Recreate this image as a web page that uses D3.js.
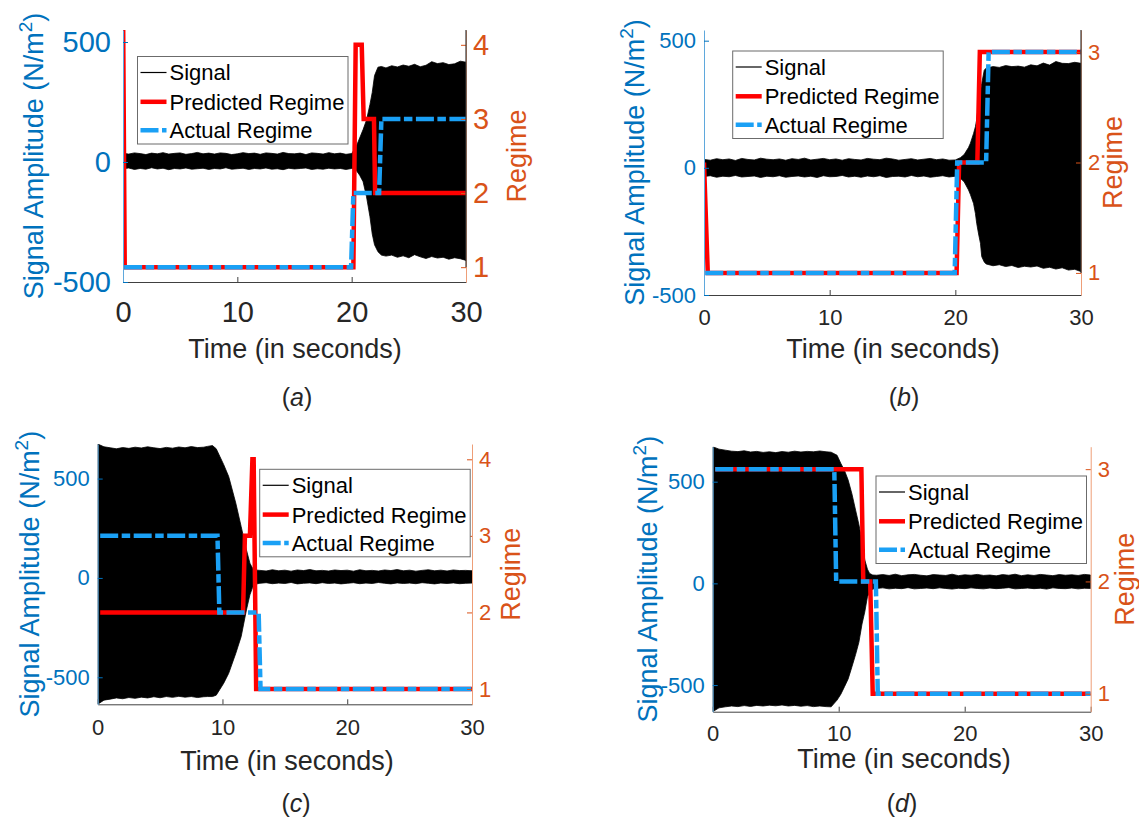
<!DOCTYPE html>
<html><head><meta charset="utf-8">
<script src="https://cdn.jsdelivr.net/npm/d3@7"></script>
<style>
body{margin:0;background:#fff}
svg{display:block}
text{font-family:"Liberation Sans",Arial,Helvetica,sans-serif}
</style>
</head><body>
<svg id="chart" width="1139" height="822"></svg>
<script>
// ---------------- DATA ----------------
const xTicks = [0, 10, 20, 30];
const ampTicks = [-500, 0, 500];
const regimeTicks4 = [1, 2, 3, 4];
const regimeTicks3 = [1, 2, 3];
const legendLabels = ["Signal", "Predicted Regime", "Actual Regime"];
const panelLetters = ["a", "b", "c", "d"];
const xLabel = "Time (in seconds)";
const leftLabel = "Signal Amplitude (N/m";
const rightLabel = "Regime";

// Panel (a): signal envelope (N/m^2) and regimes
const sigTimeA  = [0,0.5,1,1.5,2,2.5,3,3.5,4,4.5,5,5.5,6,6.5,7,7.5,8,8.5,9,9.5,10,10.5,11,11.5,12,12.5,13,13.5,14,14.5,15,15.5,16,16.5,17,17.5,18,18.5,19,19.5,20,
                   20.4,20.7,21.0,21.3,21.6,21.8,22.0,22.3,22.6,
                   23,23.5,24,24.5,25,25.5,26,26.5,27,27.5,28,28.5,29,29.5,30];
const sigUpperA = [36,33,38,35,31,37,34,39,33,36,38,32,35,40,34,37,33,38,36,31,34,39,35,37,32,38,36,33,40,35,34,37,31,38,36,33,39,34,37,32,35,
                   65,100,135,175,240,290,360,395,398,
                   392,401,396,404,399,407,397,403,418,410,414,406,409,420,416];
const sigLowerA = [-28,-25,-31,-27,-30,-24,-29,-26,-32,-27,-29,-25,-30,-28,-26,-31,-27,-29,-24,-30,-28,-26,-31,-27,-29,-25,-30,-28,-32,-26,-29,-27,-25,-31,-28,-30,-26,-29,-27,-31,-27,
                   -35,-55,-82,-145,-228,-300,-345,-374,-388,
                   -392,-388,-397,-391,-399,-386,-395,-402,-394,-400,-397,-405,-399,-403,-410];
const predTimeA   = [0, 0.15, 20.15, 20.35, 20.88, 21.05, 21.95, 22.05, 30];
const predRegimeA = [4.6, 1, 1, 4, 4, 3, 3, 2, 2];
const actTimeA    = [0.1, 19.95, 20.15, 22.4, 22.6, 30];
const actRegimeA  = [1, 1, 2, 2, 3, 3];

// Panel (b)
const sigTimeB  = [0,0.5,1,1.5,2,2.5,3,3.5,4,4.5,5,5.5,6,6.5,7,7.5,8,8.5,9,9.5,10,10.5,11,11.5,12,12.5,13,13.5,14,14.5,15,15.5,16,16.5,17,17.5,18,18.5,19,19.5,20,
                   20.4,20.7,21.05,21.2,21.45,21.6,21.7,21.85,22.0,22.1,22.3,22.45,
                   23,23.5,24,24.5,25,25.5,26,26.5,27,27.5,28,28.5,29,29.5,30];
const sigUpperB = [33,30,36,32,35,29,37,33,31,38,34,32,35,30,36,33,38,31,34,37,32,35,30,36,33,31,37,34,32,38,35,30,33,36,31,34,37,32,35,30,31,
                   40,52,80,97,135,162,190,254,300,332,384,392,
                   398,395,402,398,400,396,405,401,412,404,418,411,410,415,411];
const sigLowerB = [-34,-31,-37,-33,-35,-30,-36,-34,-32,-38,-33,-35,-31,-37,-34,-32,-36,-33,-38,-31,-35,-34,-30,-36,-33,-37,-32,-35,-31,-38,-34,-33,-36,-30,-35,-32,-37,-34,-31,-36,-33,
                   -41,-55,-87,-105,-140,-180,-218,-260,-297,-349,-370,-378,
                   -385,-381,-388,-384,-392,-387,-390,-386,-395,-391,-398,-393,-402,-399,-408];
const predTimeB   = [0, 0.3, 20.1, 20.3, 21.75, 21.95, 30];
const predRegimeB = [2, 1, 1, 2, 2, 3, 3];
const actTimeB    = [0.1, 19.95, 20.15, 22.45, 22.65, 30];
const actRegimeB  = [1, 1, 2, 2, 3, 3];

// Panel (c)
const sigTimeC  = [0,0.5,1,1.5,2,2.5,3,3.5,4,4.5,5,5.5,6,6.5,7,7.5,8,8.5,
                   8.8,9.2,9.5,9.8,10.1,10.5,11.07,11.5,11.92,12.2,12.4,12.6,
                   13,13.5,14,14.5,15,15.5,16,16.5,17,17.5,18,18.5,19,19.5,20,20.5,21,21.5,22,22.5,23,23.5,24,24.5,25,25.5,26,26.5,27,27.5,28,28.5,29,29.5,30];
const sigUpperC = [674,660,655,650,656,652,658,654,660,655,651,657,653,659,655,661,656,658,
                   662,666,650,610,570,510,376,258,141,74,50,40,
                   38,35,41,36,39,34,40,37,42,36,38,35,40,37,39,34,41,36,38,35,40,37,42,36,39,34,38,41,36,39,35,40,37,38,36];
const sigLowerC = [-636,-615,-610,-604,-608,-602,-606,-600,-604,-598,-603,-597,-601,-596,-600,-597,-602,-598,
                   -597,-597,-590,-560,-530,-480,-379,-295,-161,-85,-50,-32,
                   -27,-24,-29,-26,-28,-23,-30,-27,-25,-29,-24,-28,-26,-30,-27,-24,-29,-26,-28,-23,-27,-30,-25,-28,-26,-29,-24,-27,-30,-26,-28,-25,-29,-27,-26];
const predTimeC   = [0.2, 11.65, 11.8, 12.2, 12.4, 12.5, 12.7, 30];
const predRegimeC = [2, 2, 3, 3, 4, 4, 1, 1];
const actTimeC    = [0.2, 9.6, 9.75, 12.9, 13.05, 30];
const actRegimeC  = [3, 3, 2, 2, 1, 1];

// Panel (d)
const sigTimeD  = [0,0.5,1,1.5,2,2.5,3,3.5,4,4.5,5,5.5,6,6.5,7,7.5,8,8.5,9,
                   9.4,9.87,10.17,10.46,10.75,11.05,11.34,11.6,11.85,12.07,12.28,12.45,12.7,
                   13,13.5,14,14.5,15,15.5,16,16.5,17,17.5,18,18.5,19,19.5,20,20.5,21,21.5,22,22.5,23,23.5,24,24.5,25,25.5,26,26.5,27,27.5,28,28.5,29,29.5,30];
const sigUpperD = [672,660,655,650,648,652,646,649,644,647,643,648,645,650,646,649,647,651,647,
                   645,630,590,555,508,440,360,290,210,115,70,49,41,
                   40,43,39,45,38,42,44,40,37,43,41,39,45,38,42,40,44,39,41,37,43,40,45,38,42,39,44,41,38,43,40,42,39,44,41];
const sigLowerD = [-631,-612,-607,-603,-606,-601,-605,-600,-603,-599,-602,-598,-603,-600,-604,-601,-606,-603,-606,
                   -607,-574,-545,-508,-470,-410,-350,-290,-200,-140,-66,-45,-28,
                   -25,-22,-27,-24,-26,-21,-27,-25,-23,-26,-22,-25,-28,-24,-26,-22,-25,-27,-23,-26,-24,-21,-27,-25,-23,-26,-24,-28,-22,-25,-26,-23,-27,-24,-25];
const predTimeD   = [0.2, 11.8, 11.95, 12.5, 12.7, 30];
const predRegimeD = [3, 3, 2, 2, 1, 1];
const actTimeD    = [0.2, 9.65, 9.8, 12.95, 13.1, 30];
const actRegimeD  = [3, 3, 2, 2, 1, 1];

// ---------------- LAYOUT ----------------
const COL_LEFT = "#0072BD", COL_RIGHT = "#D95319", COL_PRED = "#FF0000", COL_ACT = "#1AA0F5", COL_TXT = "#262626";
const DASH = "18,3.5,8.5,3.5";

const panels = [
  {letter: panelLetters[0], sig: [sigTimeA, sigUpperA, sigLowerA], pred: [predTimeA, predRegimeA], act: [actTimeA, actRegimeA],
   left: 123, right: 466, top: 30, bottom: 282, ampDomain: [-500, 550], regDomain: [0.8, 4.2], regTicks: regimeTicks4,
   tickFont: 29, leftPad: 12, tickY: 312, rightPad: 7, leftLabelX: 33, rightLabelX: 516, timeX: 295, timeY: 348,
   subX: 297, subY: 397, legX: 137.5, legY: 56.5, darkRight: true},
  {letter: panelLetters[1], sig: [sigTimeB, sigUpperB, sigLowerB], pred: [predTimeB, predRegimeB], act: [actTimeB, actRegimeB],
   left: 704, right: 1081, top: 30, bottom: 295, ampDomain: [-500, 542], regDomain: [0.8, 3.2], regTicks: regimeTicks3,
   tickFont: 22, leftPad: 8, tickY: 317, rightPad: 7, leftLabelX: 634, rightLabelX: 1112, timeX: 893, timeY: 348,
   subX: 904, subY: 397, legX: 732.7, legY: 51, darkRight: true},
  {letter: panelLetters[2], sig: [sigTimeC, sigUpperC, sigLowerC], pred: [predTimeC, predRegimeC], act: [actTimeC, actRegimeC],
   left: 97.7, right: 472, top: 444, bottom: 704.3, ampDomain: [-636, 674], regDomain: [0.8, 4.2], regTicks: regimeTicks4,
   tickFont: 22, leftPad: 8, tickY: 727, rightPad: 7, leftLabelX: 29, rightLabelX: 510, timeX: 287, timeY: 760,
   subX: 296, subY: 803, legX: 259.7, legY: 469.3, darkRight: false},
  {letter: panelLetters[3], sig: [sigTimeD, sigUpperD, sigLowerD], pred: [predTimeD, predRegimeD], act: [actTimeD, actRegimeD],
   left: 712.7, right: 1090.7, top: 446.7, bottom: 711.7, ampDomain: [-631, 672], regDomain: [0.84, 3.2], regTicks: regimeTicks3,
   tickFont: 22, leftPad: 8, tickY: 733, rightPad: 7, leftLabelX: 647, rightLabelX: 1124, timeX: 904, timeY: 758,
   subX: 902, subY: 803, legX: 876, legY: 476, darkRight: false}
];

const svg = d3.select("#chart");
const FONT = '"Liberation Sans",Arial,Helvetica,sans-serif';
const fmt = d => String(d);

panels.forEach((p, i) => {
  const g = svg.append("g");
  const x = d3.scaleLinear().domain([0, 30]).range([p.left, p.right]);
  const yA = d3.scaleLinear().domain(p.ampDomain).range([p.bottom, p.top]);
  const yR = d3.scaleLinear().domain(p.regDomain).range([p.bottom, p.top]);

  const clipId = "clip" + i;
  svg.append("clipPath").attr("id", clipId).append("rect")
    .attr("x", p.left).attr("y", p.top).attr("width", p.right - p.left).attr("height", p.bottom - p.top);

  const plot = g.append("g").attr("clip-path", `url(#${clipId})`);

  // signal (dense oscillation drawn as its envelope)
  const [st, su, sl] = p.sig;
  const sigData = st.map((t, k) => ({t, u: su[k], l: sl[k]}));
  plot.append("path").datum(sigData)
    .attr("d", d3.area().x(d => x(d.t)).y0(d => yA(d.l)).y1(d => yA(d.u)))
    .attr("fill", "#000").attr("stroke", "#000").attr("stroke-width", 0.8);

  const lineR = d3.line().x(d => x(d[0])).y(d => yR(d[1]));
  const predData = p.pred[0].map((t, k) => [t, p.pred[1][k]]);
  const actData = p.act[0].map((t, k) => [t, p.act[1][k]]);
  plot.append("path").datum(predData).attr("d", lineR)
    .attr("fill", "none").attr("stroke", COL_PRED).attr("stroke-width", 4.5).attr("stroke-linejoin", "miter");
  plot.append("path").datum(actData).attr("d", lineR)
    .attr("fill", "none").attr("stroke", COL_ACT).attr("stroke-width", 4.5)
    .attr("stroke-dasharray", DASH).attr("stroke-linejoin", "miter");

  // x axis
  const gx = g.append("g").attr("transform", `translate(0,${p.bottom})`)
    .call(d3.axisBottom(x).tickValues(xTicks).tickFormat(fmt).tickSize(-5).tickSizeOuter(0));
  gx.select(".domain").attr("stroke", "#404040").attr("stroke-width", 1);
  gx.selectAll(".tick line").attr("stroke", "#404040");
  gx.selectAll(".tick text").attr("y", p.tickY - p.bottom).attr("dy", "0.36em")
    .attr("font-size", p.tickFont).attr("font-family", FONT).attr("fill", COL_TXT);

  // left axis
  const gl = g.append("g").attr("transform", `translate(${p.left},0)`)
    .call(d3.axisLeft(yA).tickValues(ampTicks).tickFormat(fmt).tickSize(-5).tickSizeOuter(0).tickPadding(p.leftPad));
  gl.select(".domain").attr("stroke", "#5fa8dc").attr("stroke-width", 1);
  gl.selectAll(".tick line").attr("stroke", COL_LEFT);
  gl.selectAll(".tick text").attr("font-size", p.tickFont).attr("font-family", FONT).attr("fill", COL_LEFT);

  // right axis
  const gr = g.append("g").attr("transform", `translate(${p.right},0)`)
    .call(d3.axisRight(yR).tickValues(p.regTicks).tickFormat(fmt).tickSize(-5).tickSizeOuter(0).tickPadding(p.rightPad));
  gr.select(".domain").attr("stroke", "#ee9e78").attr("stroke-width", 1);
  gr.selectAll(".tick line").attr("stroke", COL_RIGHT);
  gr.selectAll(".tick text").attr("font-size", p.tickFont).attr("font-family", FONT).attr("fill", COL_RIGHT);
  if (p.darkRight) {
    g.append("line").attr("x1", p.right).attr("x2", p.right)
      .attr("y1", p.top).attr("y2", yR(1)).attr("stroke", "#3a3a3a").attr("stroke-width", 1.2);
  }

  // axis labels
  const ll = g.append("text")
    .attr("transform", `translate(${p.leftLabelX},${(p.top + p.bottom) / 2}) rotate(-90)`)
    .attr("text-anchor", "middle").attr("dy", "0.36em").attr("font-size", 27).attr("fill", COL_LEFT);
  ll.append("tspan").text(leftLabel);
  ll.append("tspan").text("2").attr("font-size", 19).attr("dy", -11);
  ll.append("tspan").text(")").attr("dy", 11);

  g.append("text")
    .attr("transform", `translate(${p.rightLabelX},${(p.top + p.bottom) / 2}) rotate(-90)`)
    .attr("text-anchor", "middle").attr("dy", "0.36em").attr("font-size", 27).attr("fill", COL_RIGHT)
    .text(rightLabel);

  g.append("text").attr("x", p.timeX).attr("y", p.timeY).attr("dy", "0.36em")
    .attr("text-anchor", "middle").attr("font-size", 27).attr("fill", COL_TXT).text(xLabel);

  const sub = g.append("text").attr("x", p.subX).attr("y", p.subY).attr("dy", "0.36em")
    .attr("text-anchor", "middle").attr("font-size", 25).attr("fill", COL_TXT);
  sub.append("tspan").text("(");
  sub.append("tspan").text(p.letter).attr("font-style", "italic");
  sub.append("tspan").text(")");

  // legend
  const lg = g.append("g").attr("transform", `translate(${p.legX},${p.legY})`);
  lg.append("rect").attr("width", 210.5).attr("height", 87.5)
    .attr("fill", "#fff").attr("stroke", "#6b6b6b").attr("stroke-width", 1);
  const rows = [16, 45.3, 73.7];
  const styles = [
    {stroke: "#000", w: 1.2, dash: null},
    {stroke: COL_PRED, w: 4.5, dash: null},
    {stroke: COL_ACT, w: 4.5, dash: DASH}
  ];
  legendLabels.forEach((lab, k) => {
    const ln = lg.append("line").attr("x1", 3).attr("x2", 29).attr("y1", rows[k]).attr("y2", rows[k])
      .attr("stroke", styles[k].stroke).attr("stroke-width", styles[k].w);
    if (styles[k].dash) ln.attr("stroke-dasharray", styles[k].dash);
    lg.append("text").attr("x", 32).attr("y", rows[k]).attr("dy", "0.36em")
      .attr("font-size", 22).attr("fill", "#000").text(lab);
  });
});
</script>
</body></html>
